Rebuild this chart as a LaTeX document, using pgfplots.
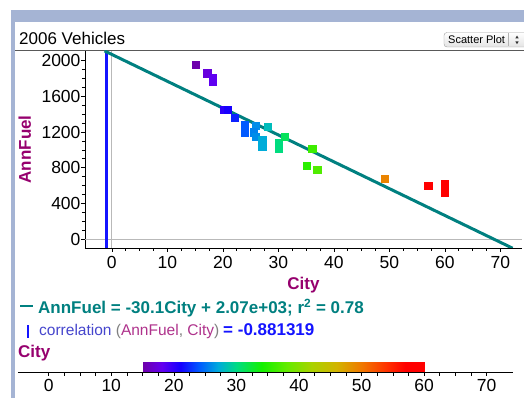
\documentclass[border=0pt]{standalone}
\usepackage{pgfplots}
\usepackage{pgfplotstable}
\pgfplotsset{compat=1.18}
\usepackage{fontspec}
\setmainfont{Liberation Sans}

\definecolor{fathomteal}{RGB}{0,128,128}
\definecolor{labelpurple}{RGB}{150,0,110}
\definecolor{attrpurple}{RGB}{175,50,140}
\definecolor{framegray}{RGB}{165,180,212}
\definecolor{corrblue}{RGB}{70,70,205}
\definecolor{valblue}{RGB}{20,20,255}

% Colour scale used for the City attribute (15 .. 60)
\pgfplotsset{
  colormap={fathom}{
    rgb255(0pt)=(110,0,170)
    rgb255(3pt)=(100,0,240)
    rgb255(6pt)=(20,0,255)
    rgb255(9pt)=(0,90,255)
    rgb255(12pt)=(0,170,220)
    rgb255(15pt)=(0,220,130)
    rgb255(19pt)=(20,240,0)
    rgb255(23pt)=(100,235,0)
    rgb255(27pt)=(170,210,0)
    rgb255(31pt)=(210,180,0)
    rgb255(35pt)=(240,120,0)
    rgb255(39pt)=(255,50,0)
    rgb255(42pt)=(255,0,0)
    rgb255(45pt)=(255,0,0)
  },
  every tick label/.append style={font=\fontsize{17.5}{20}\selectfont},
  /pgf/number format/assume math mode=true,
  /pgf/number format/1000 sep={},
}

% City mileage and annual fuel cost, 2006 vehicles
\pgfplotstableread{
city annfuel
15.1 1959
17.2 1859
18.2 1813
18.2 1760
20.1 1447
20.9 1447
22.1 1361
24.0 1279
24.0 1192
25.9 1271
25.5 1197
25.9 1148
27.1 1110
27.1 1035
28.1 1260
30.1 1077
30.1 1017
31.2 1144
35.1 826
36.1 1012
37.0 777
49.2 673
57.0 602
60.0 614
60.0 525
}\vehicles

\begin{document}
\begin{tikzpicture}
\useasboundingbox (0pt,0pt) rectangle (524pt,398pt);
\fill[white] (0pt,0pt) rectangle (524pt,398pt);

% window frame
\fill[framegray] (11pt,376pt) rectangle (524pt,388pt);
\fill[framegray] (11pt,0pt) rectangle (15pt,376pt);

% title and plot-type button
\node[anchor=base west, inner sep=0pt, font=\fontsize{17}{20}\selectfont] at (19pt,353pt) {2006 Vehicles};
\draw[rounded corners=3pt, draw=gray!75, top color=white, bottom color=gray!22] (444pt,351pt) rectangle (532pt,365.5pt);
\node[anchor=base west, inner sep=0pt, font=\fontsize{11}{13}\selectfont] at (448pt,354.5pt) {Scatter Plot};
\draw[gray!60] (508pt,352pt) -- (508pt,364.5pt);
\fill[black!80] (515.3pt,359.6pt) -- (518.7pt,359.6pt) -- (517pt,362.4pt) -- cycle;
\fill[black!80] (515.3pt,356.6pt) -- (518.7pt,356.6pt) -- (517pt,353.8pt) -- cycle;
\draw[gray!70!black, line width=0.8pt] (15pt,347.5pt) -- (524pt,347.5pt);

\begin{axis}[
  at={(85pt,150pt)}, anchor=south west,
  width=437pt, height=197.3pt, scale only axis,
  xmin=-4.83, xmax=73.9, ymin=-101, ymax=2112,
  axis x line*=bottom, axis y line*=left,
  axis line style={black, line width=0.8pt, -},
  tick align=outside,
  xtick={0,10,...,70}, ytick={0,400,...,2000},
  minor x tick num=3, minor y tick num=3,
  major tick length=4pt, minor tick length=3pt,
  every tick/.style={black, line width=0.6pt},
  yticklabel style={xshift=3pt},
  xticklabel style={yshift=-1pt},
  colormap name=fathom, point meta min=15, point meta max=60,
  xlabel={City}, ylabel={AnnFuel},
  label style={font=\bfseries\fontsize{17}{20}\selectfont, text=labelpurple},
  xlabel style={at={(axis description cs:0.5,-0.1875)}, anchor=center},
  ylabel style={at={(axis description cs:-0.1375,0.5)}, anchor=center},
  clip=true,
]
% reference lines at zero
\addplot[gray!55, line width=0.7pt, forget plot] coordinates {(0,-101) (0,2112)};
\addplot[gray!55, line width=0.7pt, forget plot] coordinates {(-4.83,0) (73.9,0)};
% correlation marker
\addplot[valblue, line width=3pt, forget plot] coordinates {(-0.881319,-101) (-0.881319,2112)};
% cases
\addplot[scatter, only marks, mark=square*, mark size=3.6pt, point meta=x,
  scatter/use mapped color={draw=mapped color, fill=mapped color}]
  table[x=city, y=annfuel] {\vehicles};
% least-squares line AnnFuel = -30.1 City + 2070
\addplot[fathomteal, line width=3pt] coordinates {(-1.3,2109.13) (72.2,-103.22)};
\end{axis}

% regression and correlation readouts
\draw[fathomteal, line width=2.2pt] (20pt,92.3pt) -- (33pt,92.3pt);
\node[anchor=base west, inner sep=0pt, text=fathomteal, font=\bfseries\fontsize{17}{20}\selectfont]
  at (38pt,84.7pt) {AnnFuel = -30.1City + 2.07e+03; r\textsuperscript{2} = 0.78};
\draw[valblue, line width=2pt] (28.3pt,60pt) -- (28.3pt,73pt);
\node[anchor=base west, inner sep=0pt, font=\fontsize{15.5}{18}\selectfont]
  at (39pt,62pt) {\textcolor{corrblue}{correlation} \textcolor{gray}{(}\textcolor{attrpurple}{AnnFuel}\textcolor{gray}{,} \textcolor{attrpurple}{City}\textcolor{gray}{)}};
\node[anchor=base west, inner sep=0pt, text=valblue, font=\bfseries\fontsize{17}{20}\selectfont]
  at (223pt,62pt) {= -0.881319};

% colour legend for City
\node[anchor=base west, inner sep=0pt, text=labelpurple, font=\bfseries\fontsize{17}{20}\selectfont]
  at (18pt,40pt) {City};
\begin{axis}[
  at={(18pt,26pt)}, anchor=south west,
  width=495pt, height=10pt, scale only axis,
  xmin=-4.9, xmax=74.2, ymin=0, ymax=1,
  axis x line*=bottom, axis y line=none,
  axis line style={black, line width=0.8pt, -},
  tick align=outside,
  xtick={0,10,...,70}, minor x tick num=3,
  major tick length=4pt, minor tick length=4pt,
  every tick/.style={black, line width=0.6pt},
  colormap name=fathom, point meta min=15, point meta max=60,
  clip=false,
]
\addplot[patch, shader=interp, point meta=x] coordinates {
  (15,0) (60,0) (60,1)
  (15,0) (60,1) (15,1)
};
\end{axis}
\end{tikzpicture}
\end{document}
